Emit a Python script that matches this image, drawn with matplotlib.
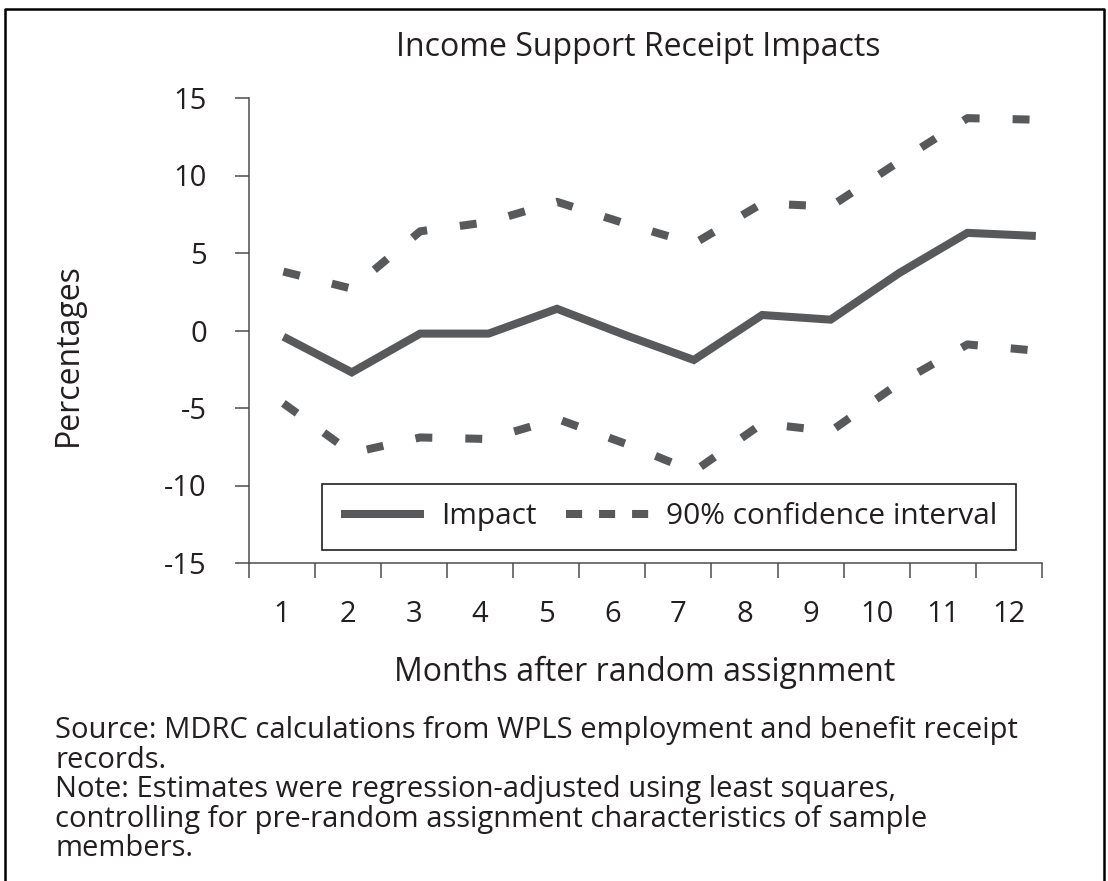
"""
Impactos mensuales en la recepcion de apoyo al ingreso, con su
intervalo de confianza del 90%, durante los 12 meses posteriores a
la asignacion aleatoria.
"""

import matplotlib
matplotlib.use("Agg")
import matplotlib.pyplot as plt
from matplotlib.lines import Line2D

MESES = ["1", "2", "3", "4", "5", "6", "7", "8", "9", "10", "11", "12"]
IMPACTO = [-0.4, -2.7, -0.2, -0.2, 1.4, -0.3, -1.9, 1.0, 0.7, 3.7, 6.3, 6.1]
IC_SUPERIOR = [3.8, 2.7, 6.4, 7.0, 8.3, 6.9, 5.6, 8.2, 8.0, 10.9, 13.7, 13.6]
IC_INFERIOR = [-4.7, -7.9, -6.9, -7.0, -5.7, -7.3, -9.1, -6.0, -6.5, -3.4, -0.9, -1.3]
TICKS_Y = [-15, -10, -5, 0, 5, 10, 15]

NOTAS = [
    "Source: MDRC calculations from WPLS employment and benefit receipt",
    "records.",
    "Note: Estimates were regression-adjusted using least squares,",
    "controlling for pre-random assignment characteristics of sample",
    "members.",
]

COLOR_SERIE = "#58595B"
COLOR_TEXTO = "#231F20"
COLOR_EJE = "#4D4D4F"

ANCHO, ALTO = 1108, 881
GROSOR = 5.8


def fx(px):
    return px / ANCHO


def fy(py):
    return 1 - py / ALTO


def generar_grafico():
    plt.rcParams["font.family"] = ["Open Sans", "DejaVu Sans"]
    plt.rcParams["text.color"] = COLOR_TEXTO
    plt.rcParams["axes.unicode_minus"] = False

    figura = plt.figure(figsize=(ANCHO / 100, ALTO / 100), dpi=100)
    ejes = figura.add_axes([fx(248.5), fy(563), fx(1042) - fx(248.5), fy(98) - fy(563)])

    # eje de categorias: marcas entre meses, etiquetas centradas
    n = len(MESES)
    ejes.set_xlim(0.5, n + 0.5)
    ejes.set_xticks([i + 0.5 for i in range(n + 1)])
    ejes.set_xticklabels([])
    ejes.set_xticks(range(1, n + 1), minor=True)
    ejes.set_xticklabels(MESES, minor=True)
    ejes.tick_params(axis="x", which="major", direction="out", length=11,
                     width=1.1, color=COLOR_EJE)
    ejes.tick_params(axis="x", which="minor", length=0, pad=27,
                     labelsize=21, labelcolor=COLOR_TEXTO)

    ejes.set_ylim(-15, 15)
    ejes.set_yticks(TICKS_Y)
    ejes.tick_params(axis="y", direction="out", length=10, width=1.1,
                     color=COLOR_EJE, pad=20, labelsize=21, labelcolor=COLOR_TEXTO)

    for lado in ["top", "right"]:
        ejes.spines[lado].set_visible(False)
    for lado in ["left", "bottom"]:
        ejes.spines[lado].set_color(COLOR_EJE)
        ejes.spines[lado].set_linewidth(1.1)

    # las series van en un eje gemelo con su propio rango horizontal
    series = ejes.twiny()
    series.set_xlim(0.49, 12.09)
    series.xaxis.set_visible(False)
    for lado in series.spines.values():
        lado.set_visible(False)

    x = list(range(1, len(IMPACTO) + 1))
    series.plot(x, IC_SUPERIOR, color=COLOR_SERIE, lw=GROSOR, dashes=(2.1, 4.1))
    series.plot(x, IC_INFERIOR, color=COLOR_SERIE, lw=GROSOR, dashes=(2.1, 4.1))
    series.plot(x, IMPACTO, color=COLOR_SERIE, lw=GROSOR,
                solid_joinstyle="miter", solid_capstyle="butt")

    manejadores = [
        Line2D([], [], color=COLOR_SERIE, lw=GROSOR, solid_capstyle="butt"),
        Line2D([], [], color=COLOR_SERIE, lw=GROSOR, dashes=(2.0, 2.1)),
    ]
    leyenda = series.legend(
        manejadores, ["Impact", "90% confidence interval"],
        loc="center", bbox_to_anchor=(0.530, 0.099), ncol=2, fontsize=21.5,
        handlelength=2.8, handletextpad=0.55, columnspacing=1.0,
        borderpad=0.62, fancybox=False, framealpha=1,
    )
    leyenda.get_frame().set_edgecolor(COLOR_TEXTO)
    leyenda.get_frame().set_linewidth(1.2)

    figura.text(fx(638), fy(48), "Income Support Receipt Impacts",
                ha="center", va="center", fontsize=23)
    figura.text(fx(68), fy(355), "Percentages", rotation=90,
                ha="center", va="center", fontsize=23)
    figura.text(fx(645), fy(672), "Months after random assignment",
                ha="center", va="center", fontsize=23)

    # notas al pie, una linea cada 29.5 px
    for i, linea in enumerate(NOTAS):
        figura.text(fx(55), fy(738 + 29.5 * i), linea, ha="left",
                    va="baseline", fontsize=21)

    # marco exterior abierto por abajo
    figura.add_artist(Line2D(
        [fx(5), fx(5), fx(1104), fx(1104)], [0, fy(9), fy(9), 0],
        transform=figura.transFigure, color="black", lw=1.8,
    ))

    figura.savefig("out.png", dpi=100)
    plt.close(figura)


if __name__ == "__main__":
    generar_grafico()
